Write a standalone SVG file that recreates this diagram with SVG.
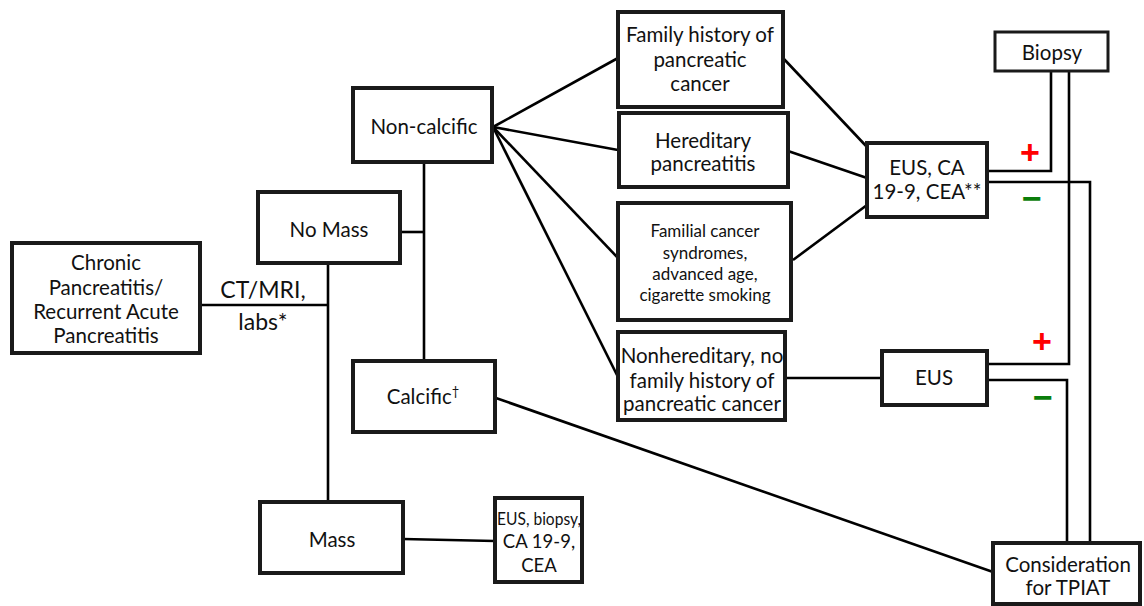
<svg xmlns="http://www.w3.org/2000/svg" width="1144" height="606" viewBox="0 0 1144 606">
<style>
.box{fill:#fff;stroke:#1a1a1a;stroke-width:4}
.thin{fill:#fff;stroke:#1a1a1a;stroke-width:3}
.ln{fill:none;stroke:#000;stroke-width:2.6}
text{font-family:Lato,"Open Sans","Liberation Sans",sans-serif;fill:#111;text-anchor:middle}
.t{font-size:20.5px}
.s{font-size:17px}
.m{font-size:18.5px}
.l{font-size:23px}
.plus{font-family:"Liberation Sans",Arial,sans-serif;font-size:34px;font-weight:bold;fill:#f00}
.minus{font-family:"Liberation Sans",Arial,sans-serif;font-size:34px;font-weight:bold;fill:#0a7d0a}
</style>
<rect width="1144" height="606" fill="#fff"/>
<g id="connectors">
<path class="ln" d="M200 305 H328"/>
<path class="ln" d="M328 263 V502"/>
<path class="ln" d="M400 232 H424" stroke-width="4"/>
<path class="ln" d="M424 162 V361"/>
<path class="ln" d="M403 539 L495 541"/>
<path class="ln" d="M493 127 L618 58"/>
<path class="ln" d="M493 127 L618 150"/>
<path class="ln" d="M493 127 L618 258"/>
<path class="ln" d="M493 127 L618 377"/>
<path class="ln" d="M783 58 L867 147"/>
<path class="ln" d="M788 151 L867 178"/>
<path class="ln" d="M793 260 L867 205"/>
<path class="ln" d="M785 378 H882"/>
<path class="ln" d="M987 171 H1051 V71"/>
<path class="ln" d="M1069 71 V364 H987"/>
<path class="ln" d="M987 182 H1090 V543"/>
<path class="ln" d="M987 380 H1067 V543"/>
<path class="ln" d="M493 397 L993 572"/>
</g>
<text class="l" x="263" y="298">CT/MRI,</text>
<text class="l" x="263" y="330">labs*</text>
<text class="plus" x="1030" y="164">+</text>
<text class="minus" x="1032" y="210">−</text>
<text class="plus" x="1042" y="353">+</text>
<text class="minus" x="1043" y="409">−</text>
<g id="chronic">
<rect class="box" x="12" y="243" width="188" height="110"/>
<text class="t" x="106" y="270">Chronic</text>
<text class="t" x="106" y="295">Pancreatitis/</text>
<text class="t" x="106" y="319">Recurrent Acute</text>
<text class="t" x="106" y="343">Pancreatitis</text>
</g>
<g id="nomass">
<rect class="box" x="258" y="192" width="142" height="71"/>
<text class="t" x="329" y="237">No Mass</text>
</g>
<g id="noncalcific">
<rect class="box" x="353" y="88" width="139" height="74"/>
<text class="t" x="424" y="134">Non-calcific</text>
</g>
<g id="calcific">
<rect class="box" x="353" y="361" width="142" height="71"/>
<text class="t" x="423" y="404">Calcific<tspan font-size="13" dy="-8">†</tspan></text>
</g>
<g id="mass">
<rect class="box" x="260" y="502" width="143" height="71"/>
<text class="t" x="332" y="547">Mass</text>
</g>
<g id="eusbiopsy">
<rect class="box" x="495" y="498" width="87" height="84"/>
<text x="539" y="525" font-size="17" textLength="84" lengthAdjust="spacingAndGlyphs">EUS, biopsy,</text>
<text class="m" x="539" y="548">CA 19-9,</text>
<text class="m" x="539" y="572">CEA</text>
</g>
<g id="familyhistory">
<rect class="box" x="618" y="12" width="165" height="95"/>
<text class="t" x="700" y="42">Family history of</text>
<text class="t" x="700" y="67">pancreatic</text>
<text class="t" x="700" y="91">cancer</text>
</g>
<g id="hereditary">
<rect class="box" x="619" y="113" width="169" height="74"/>
<text class="t" x="703" y="148">Hereditary</text>
<text class="t" x="703" y="171">pancreatitis</text>
</g>
<g id="familial">
<rect class="box" x="618" y="203" width="173" height="117"/>
<text class="s" x="705" y="237">Familial cancer</text>
<text class="s" x="705" y="258.5">syndromes,</text>
<text class="s" x="705" y="280">advanced age,</text>
<text class="s" x="705" y="301">cigarette smoking</text>
</g>
<g id="nonhereditary">
<rect class="box" x="618" y="332" width="167" height="88"/>
<text class="t" x="702" y="363">Nonhereditary, no</text>
<text class="t" x="702" y="388">family history of</text>
<text class="t" x="702" y="411">pancreatic cancer</text>
</g>
<g id="euscaea">
<rect class="box" x="867" y="143" width="120" height="74"/>
<text class="t" x="927" y="175">EUS, CA</text>
<text class="t" x="927" y="199">19-9, CEA**</text>
</g>
<g id="biopsy">
<rect class="thin" x="995" y="32" width="113" height="39"/>
<text class="t" x="1052" y="60">Biopsy</text>
</g>
<g id="eus">
<rect class="box" x="882" y="351" width="105" height="54"/>
<text class="t" x="934" y="385">EUS</text>
</g>
<g id="tpiat">
<rect class="box" x="993" y="543" width="147" height="61"/>
<text class="t" x="1068" y="572">Consideration</text>
<text class="t" x="1068" y="595">for TPIAT</text>
</g>
</svg>
